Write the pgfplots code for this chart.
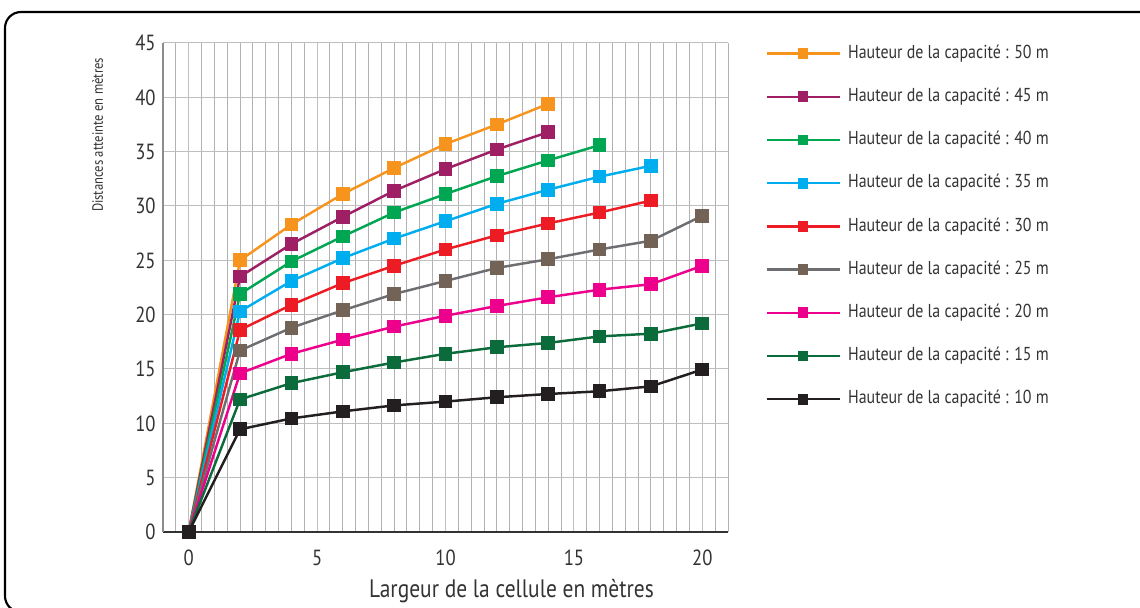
\documentclass[border=0pt]{standalone}
\usepackage{fontspec}
\setmainfont[FakeStretch=0.85]{PT Sans}
\usepackage{pgfplots}
\pgfplotsset{compat=1.18}
\definecolor{c50}{HTML}{F7941D}
\definecolor{c45}{HTML}{9E1F63}
\definecolor{c40}{HTML}{00A651}
\definecolor{c35}{HTML}{00AEEF}
\definecolor{c30}{HTML}{ED1C24}
\definecolor{c25}{HTML}{6D6E71}
\definecolor{m25}{HTML}{736357}
\definecolor{c20}{HTML}{EC008C}
\definecolor{c15}{HTML}{0B6B3A}
\definecolor{c10}{HTML}{231F20}
\definecolor{txt}{HTML}{333333}
\begin{document}
\begin{tikzpicture}
\useasboundingbox (-122.25bp,-57bp) rectangle (732.75bp,399bp);
\begin{axis}[
  at={(0,0)}, anchor=south west,
  scale only axis, width=423.75bp, height=366.75bp,
  xmin=-1, xmax=21, ymin=0, ymax=45,
  xtick={0,5,...,20}, ytick={0,5,...,45},
  minor xtick={-1,-0.5,...,21},
  xmajorgrids=true, xminorgrids=true, ymajorgrids=true,
  major grid style={line width=0.75bp, color=black!25},
  minor grid style={line width=0.75bp, color=black!30},
  major tick length=0pt, minor tick length=0pt,
  axis x line*=bottom, axis y line*=left,
  x axis line style={-, line width=0.9bp, color=black!80},
  y axis line style={-, line width=0.9bp, color=black!45},
  /pgf/number format/assume math mode=true,
  tick label style={font=\fontsize{16.5}{16.5}\selectfont, text=txt},
  xticklabel style={yshift=-10bp},
  yticklabel style={xshift=-2bp},
  xlabel={Largeur de la cellule en mètres},
  xlabel style={font=\fontsize{19}{20}\selectfont, text=txt, at={(axis description cs:0.5,0)}, anchor=north, yshift=-32bp, xshift=49.5bp},
  ylabel={Distances atteinte en mètres},
  ylabel style={font=\fontsize{11.2}{12}\selectfont, text=txt, at={(axis description cs:0,0.812)}, anchor=south, yshift=41.5bp},
  every axis plot/.append style={line width=1.85bp, mark=square*, mark size=4.2bp},
  legend image code/.code={\draw[mark repeat=2,mark phase=2,#1,mark size=3.1bp] plot coordinates {(0bp,0bp) (27.4bp,0bp) (54.75bp,0bp)};},
  legend cell align=left,
  legend style={at={(axis description cs:1.0585,1.002)}, anchor=north west, draw=none, fill=none,
    font=\fontsize{14.1}{14.5}\selectfont, text=txt, row sep=19.4bp,
    nodes={inner sep=0pt, text height=10bp, text depth=3bp},
    /tikz/every odd column/.append style={column sep=5.5bp}},
]
\addplot[color=c50, mark options={fill=c50}] coordinates {(0,0) (2,25) (4,28.3) (6,31.1) (8,33.5) (10,35.7) (12,37.5) (14,39.4)};
\addlegendentry{Hauteur de la capacité : 50 m}
\addplot[color=c45, mark options={fill=c45}] coordinates {(0,0) (2,23.5) (4,26.5) (6,29.0) (8,31.4) (10,33.4) (12,35.2) (14,36.8)};
\addlegendentry{Hauteur de la capacité : 45 m}
\addplot[color=c40, mark options={fill=c40}] coordinates {(0,0) (2,21.9) (4,24.9) (6,27.2) (8,29.4) (10,31.1) (12,32.75) (14,34.2) (16,35.6)};
\addlegendentry{Hauteur de la capacité : 40 m}
\addplot[color=c35, mark options={fill=c35}] coordinates {(0,0) (2,20.3) (4,23.1) (6,25.2) (8,27.0) (10,28.6) (12,30.2) (14,31.5) (16,32.7) (18,33.7)};
\addlegendentry{Hauteur de la capacité : 35 m}
\addplot[color=c30, mark options={fill=c30}] coordinates {(0,0) (2,18.6) (4,20.9) (6,22.9) (8,24.5) (10,26.0) (12,27.3) (14,28.4) (16,29.4) (18,30.5)};
\addlegendentry{Hauteur de la capacité : 30 m}
\addplot[color=c25, mark options={draw=m25, fill=m25}] coordinates {(0,0) (2,16.7) (4,18.8) (6,20.4) (8,21.9) (10,23.1) (12,24.3) (14,25.1) (16,26.0) (18,26.8) (20,29.1)};
\addlegendentry{Hauteur de la capacité : 25 m}
\addplot[color=c20, mark options={fill=c20}] coordinates {(0,0) (2,14.6) (4,16.4) (6,17.7) (8,18.9) (10,19.9) (12,20.8) (14,21.6) (16,22.3) (18,22.8) (20,24.5)};
\addlegendentry{Hauteur de la capacité : 20 m}
\addplot[color=c15, mark options={fill=c15}] coordinates {(0,0) (2,12.2) (4,13.7) (6,14.7) (8,15.6) (10,16.4) (12,17.0) (14,17.4) (16,18.0) (18,18.25) (20,19.2)};
\addlegendentry{Hauteur de la capacité : 15 m}
\addplot[color=c10, mark options={fill=c10}] coordinates {(0,0) (2,9.45) (4,10.45) (6,11.1) (8,11.65) (10,12.0) (12,12.4) (14,12.7) (16,12.95) (18,13.4) (20,14.95)};
\addlegendentry{Hauteur de la capacité : 10 m}
\end{axis}
\draw[line width=1.6bp, rounded corners=12bp] (-118.5bp,-60bp) rectangle (745bp,390bp);
\end{tikzpicture}
\end{document}
